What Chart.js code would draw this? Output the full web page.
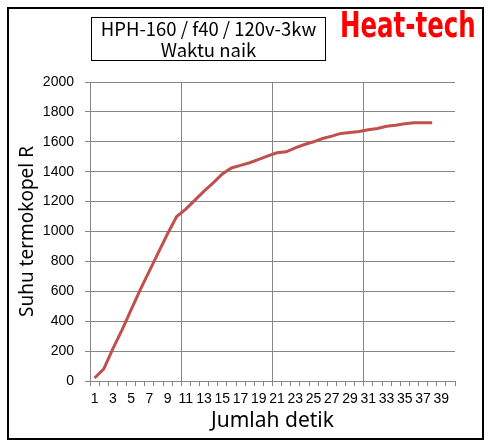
<!DOCTYPE html>
<html>
<head>
<meta charset="utf-8">
<script src="https://cdn.jsdelivr.net/npm/chart.js@4/dist/chart.umd.min.js"></script>
<style>
  body { margin: 0; background: #fff; }
  #wrap { position: relative; width: 488px; height: 445px; }
  #frame { position: absolute; left: 7px; top: 7px; width: 473px; height: 429px; border: 2px solid #000; pointer-events: none; }
  #titlebox { position: absolute; left: 91px; top: 17px; width: 233px; height: 42px; border: 1px solid #000;
    font-family: "Noto Sans CJK JP", "Liberation Sans", sans-serif; font-size: 18.5px; line-height: 21px; text-align: center; color: #000; }
  #logo { position: absolute; left: 340px; top: 3px; color: #ff0000; font-family: "Liberation Sans Narrow", "DejaVu Sans Condensed", sans-serif;
    font-weight: bold; font-size: 36px; line-height: 44px; transform-origin: left top; white-space: nowrap; display: inline-block; }
</style>
</head>
<body>
<div id="wrap">
  <canvas id="chart" width="488" height="445"></canvas>
  <div id="titlebox">HPH-160 / f40 / 120v-3kw<br>Waktu naik</div>
  <div id="logo">Heat-tech</div>
  <div id="frame"></div>
</div>
<script>
// seconds 1..40 on the axis, readings for the first 38
const seconds = [];
for (let s = 1; s <= 40; s++) seconds.push(String(s));

const temperature = [20, 80, 215, 340, 475, 610, 735, 860, 985, 1100,
  1150, 1210, 1270, 1325, 1385, 1425, 1442, 1460, 1483, 1506,
  1527, 1533, 1560, 1582, 1600, 1622, 1638, 1656, 1662, 1669,
  1680, 1689, 1704, 1711, 1720, 1727, 1727, 1727];

const yTicks = { min: 0, max: 2000, step: 200 };

const gridGray = '#868686';
const tickFont = { family: 'Liberation Sans', size: 14 };

// squeeze the logo into the space it has in the picture
const logo = document.getElementById('logo');
logo.style.transform = 'scaleX(' + (136 / logo.offsetWidth) + ')';

new Chart(document.getElementById('chart'), {
  type: 'line',
  data: {
    labels: seconds,
    datasets: [{
      data: temperature,
      borderColor: '#C0504D',
      borderWidth: 3,
      pointRadius: 0,
      tension: 0,
      fill: false
    }]
  },
  options: {
    responsive: false,
    animation: false,
    layout: { padding: { left: 0, top: 82, right: 33, bottom: 0 } },
    plugins: { legend: { display: false }, tooltip: { enabled: false } },
    scales: {
      x: {
        offset: true,
        grid: {
          offset: true,
          color: ctx => ctx.index % 10 === 0 ? gridGray : 'rgba(0,0,0,0)',
          tickColor: gridGray,
          tickLength: 5,
          lineWidth: 1
        },
        border: { color: gridGray },
        ticks: {
          autoSkip: false,
          maxRotation: 0,
          padding: 5,
          color: '#000',
          font: tickFont,
          callback: (v, i) => i % 2 === 0 ? seconds[i] : ''
        },
        title: { display: true, text: 'Jumlah detik', color: '#000', font: { family: 'Noto Sans', size: 21 }, padding: { top: 0, bottom: 11 } },
        afterFit: s => { s.height = 64; }
      },
      y: {
        min: yTicks.min,
        max: yTicks.max,
        grid: { color: gridGray, tickColor: gridGray, tickLength: 5, lineWidth: 1 },
        border: { color: gridGray },
        ticks: { stepSize: yTicks.step, padding: 11, color: '#000', font: tickFont, callback: v => String(v) },
        title: { display: true, text: 'Suhu termokopel R', color: '#000', font: { family: 'Noto Sans', size: 19 }, padding: { top: 16, bottom: 0 } },
        afterFit: s => { s.width = 90; }
      }
    }
  }
});
</script>
</body>
</html>
